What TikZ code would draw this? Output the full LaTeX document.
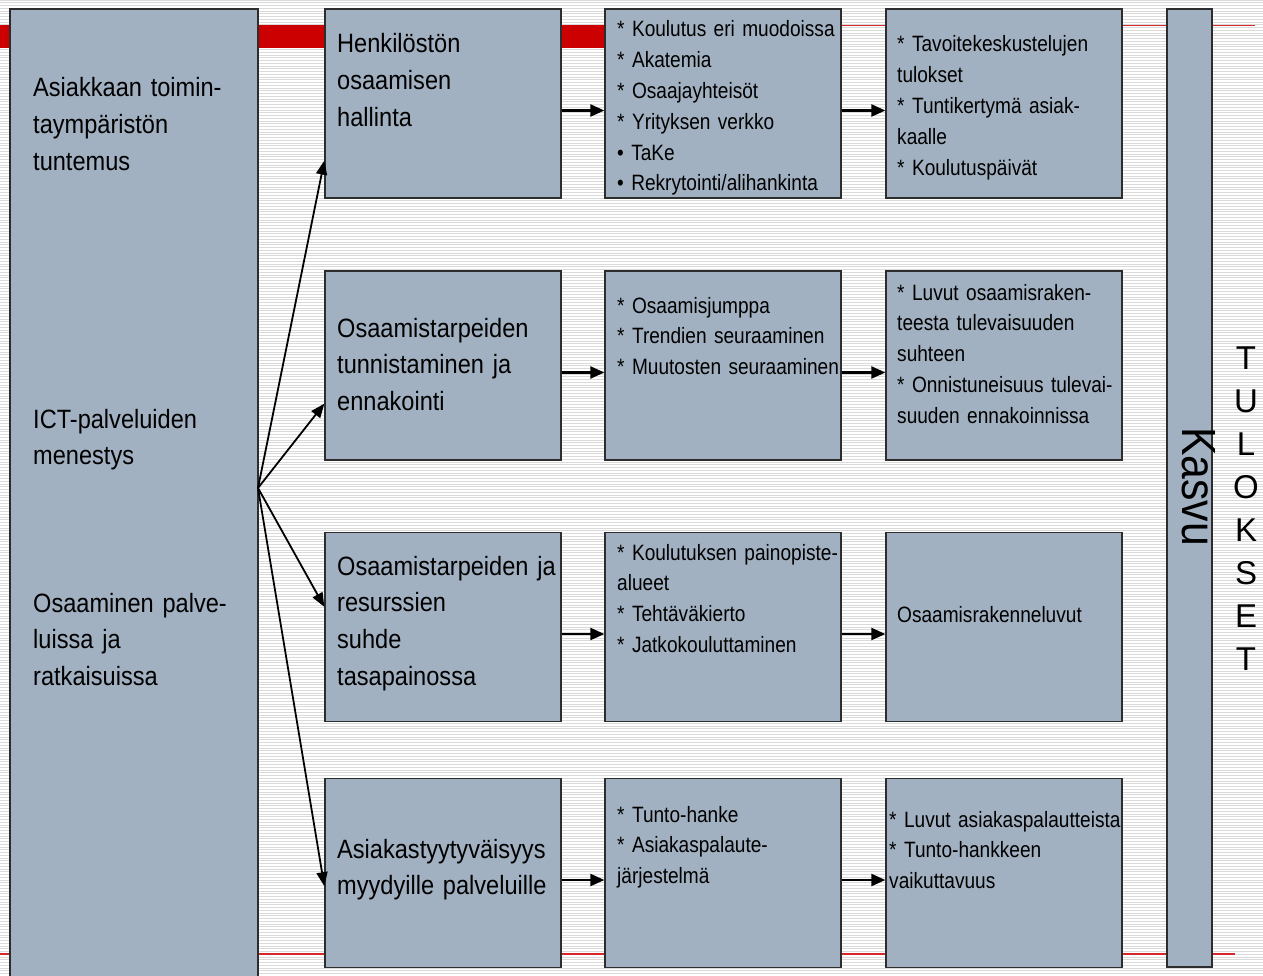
\documentclass[tikz,border=0pt]{standalone}
\usepackage{fontspec}
\setmainfont{Liberation Sans}[FakeStretch=0.89]
\newfontfamily\wideface{Liberation Sans}
\newfontfamily\slimface{Liberation Sans}[FakeStretch=0.86]
\usetikzlibrary{arrows.meta}
\definecolor{boxfill}{RGB}{162,177,193}
\definecolor{boxline}{RGB}{45,45,45}
\definecolor{barred}{RGB}{204,0,0}
\definecolor{rulered}{RGB}{214,40,40}
\definecolor{stripe}{RGB}{218,218,218}
\begin{document}
\begin{tikzpicture}[x=1pt,y=-1pt,
  box/.style={draw=boxline, line width=1.3pt, fill=boxfill, inner sep=0pt,
    minimum width=236pt, minimum height=189pt},
  bigtxt/.style={anchor=base west, inner sep=0pt, align=left, text width=260pt,
    font=\fontsize{26.5}{36.8}\selectfont},
  smalltxt/.style={anchor=base west, inner sep=0pt, align=left, text width=260pt,
    font=\slimface\fontsize{22.2}{30.8}\selectfont},
  flow/.style={line width=2.3pt, -{Triangle[length=14pt,width=12pt]}},
  fan/.style={line width=1.8pt, -{Triangle[length=14pt,width=11pt]}}]
\clip (0,0) rectangle (1263,976);

% striped background
\fill[white] (0,0) rectangle (1263,976);
\foreach \k in {0,...,355}
  \draw[stripe, line width=0.9pt] (0,{\k*2.75}) -- (1263,{\k*2.75});

% title bar and rules
\fill[barred] (0,25) rectangle (605,48);
\draw[rulered, line width=1.8pt] (605,25.5) -- (1255,25.5);
\draw[rulered, line width=1.6pt] (0,954) -- (1235,954);

% left column
\node[box, minimum width=248pt, minimum height=990pt] (left) at (134,504) {};
\coordinate (hub) at (258,488);

% boxes: b = activities, c = measures, d = results
\node[box] (b1) at (443,103.5) {};
\node[box] (b2) at (443,365.5) {};
\node[box] (b3) at (443,627) {};
\node[box] (b4) at (443,873) {};
\node[box] (c1) at (723,103.5) {};
\node[box] (c2) at (723,365.5) {};
\node[box] (c3) at (723,627) {};
\node[box] (c4) at (723,873) {};
\node[box] (d1) at (1004,103.5) {};
\node[box] (d2) at (1004,365.5) {};
\node[box] (d3) at (1004,627) {};
\node[box] (d4) at (1004,873) {};

% growth bar
\node[box, minimum width=45pt, minimum height=958pt] (kasvu) at (1189.5,488) {};

% fan of arrows from the left column
\draw[fan] (hub) -- ([yshift=38pt]b1.south west);
\draw[fan] (hub) -- ([yshift=57pt]b2.south west);
\draw[fan] (hub) -- ([yshift=-75pt]b3.north west);
\draw[fan] (hub) -- ([yshift=82pt]b4.south west);

% row arrows
\foreach \r in {1,...,4} {
  \draw[flow] ([yshift=-7pt]b\r.east) -- ([yshift=-7pt]c\r.west);
  \draw[flow] ([yshift=-7pt]c\r.east) -- ([yshift=-7pt]d\r.west);
}

% left column texts
\node[bigtxt] (l1) at (33,97) {Asiakkaan toimin-\\taympäristön\\tuntemus};
\node[bigtxt] (l2) at (33,428) {ICT-palveluiden\\menestys};
\node[bigtxt] (l3) at (33,612) {Osaaminen palve-\\luissa ja\\ratkaisuissa};

% activity texts
\node[bigtxt] (tb1) at (337,53) {Henkilöstön\\osaamisen\\hallinta};
\node[bigtxt] (tb2) at (337,337) {Osaamistarpeiden\\tunnistaminen ja\\ennakointi};
\node[bigtxt] (tb3) at (337,575) {Osaamistarpeiden ja\\resurssien\\suhde\\tasapainossa};
\node[bigtxt] (tb4) at (337,858) {Asiakastyytyväisyys\\myydyille palveluille};

% measure texts
\node[smalltxt] (tc1) at (617,37) {* Koulutus eri muodoissa\\{}* Akatemia\\{}* Osaajayhteisöt\\{}* Yrityksen verkko\\{}• TaKe\\{}• Rekrytointi/alihankinta};
\node[smalltxt] (tc2) at (617,313) {* Osaamisjumppa\\{}* Trendien seuraaminen\\{}* Muutosten seuraaminen};
\node[smalltxt] (tc3) at (617,560) {* Koulutuksen painopiste-\\alueet\\{}* Tehtäväkierto\\{}* Jatkokouluttaminen};
\node[smalltxt] (tc4) at (617,822) {* Tunto-hanke\\{}* Asiakaspalaute-\\järjestelmä};

% result texts
\node[smalltxt] (td1) at (897,52) {* Tavoitekeskustelujen\\tulokset\\{}* Tuntikertymä asiak-\\kaalle\\{}* Koulutuspäivät};
\node[smalltxt] (td2) at (897,300) {* Luvut osaamisraken-\\teesta tulevaisuuden\\suhteen\\{}* Onnistuneisuus tulevai-\\suuden ennakoinnissa};
\node[smalltxt] (td3) at (897,622) {Osaamisrakenneluvut};
\node[smalltxt] (td4) at (889,827) {* Luvut asiakaspalautteista\\{}* Tunto-hankkeen\\vaikuttavuus};

% vertical labels
\node[rotate=-90, anchor=base west, inner sep=0pt, font=\fontsize{48}{48}\selectfont] (kasvutxt) at (1182,427) {Kasvu};
\node[anchor=base, inner sep=0pt, align=center, text width=30pt,
  font=\wideface\fontsize{33}{43}\selectfont] (tulokset) at (1246,369) {T\\U\\L\\O\\K\\S\\E\\T};
\end{tikzpicture}
\end{document}
